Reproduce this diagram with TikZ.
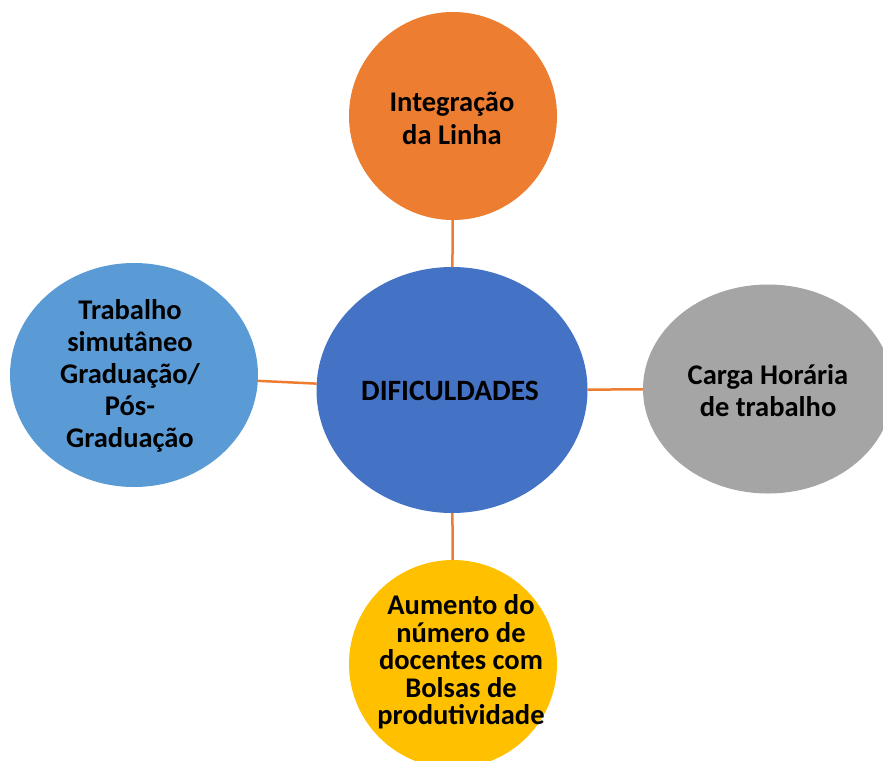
\documentclass[tikz,border=0pt]{standalone}
\usepackage{fontspec}
\setmainfont{Carlito}
\usetikzlibrary{shapes.geometric}
\definecolor{centrocol}{HTML}{4472C4}
\definecolor{linhacol}{HTML}{ED7D31}
\definecolor{trabcol}{HTML}{5B9BD5}
\definecolor{cargacol}{HTML}{A5A5A5}
\definecolor{bolsacol}{HTML}{FFC000}
\definecolor{linkcol}{HTML}{ED7D31}

\begin{document}
\begin{tikzpicture}[
   x=1pt, y=-1pt,
   bubble/.style={ellipse, inner sep=0pt, outer sep=0pt},
   txt/.style={align=center, text=black, inner sep=0pt,
               font=\bfseries\fontsize{28.5}{32}\selectfont},
   link/.style={draw=linkcol, line width=2.5pt},
]
\path[use as bounding box, clip] (0,0) rectangle (883,760);
% centre
\node[bubble, fill=centrocol, minimum width=271pt, minimum height=246pt] (dif) at (452,390) {};
% around
\node[bubble, fill=linhacol, minimum width=208pt, minimum height=208pt] (linha) at (453,116) {};
\node[bubble, fill=trabcol, minimum width=248pt, minimum height=224pt] (trab) at (134,375) {};
\node[bubble, fill=cargacol, minimum width=250pt, minimum height=209pt] (carga) at (768,389) {};
\node[bubble, fill=bolsacol, minimum width=208pt, minimum height=208pt] (bolsas) at (453,664) {};
% texts
\node[txt, font=\bfseries\fontsize{29.5}{32}\selectfont] (dif-txt) at (450,391) {DIFICULDADES};
\node[txt, font=\bfseries\fontsize{28.5}{33}\selectfont] (linha-txt) at (452,118) {Integração\\da Linha};
\node[txt] (trab-txt) at (130,376) {Trabalho\\simutâneo\\Graduação/\\Pós-\\Graduação};
\node[txt] (carga-txt) at (768,391) {Carga Horária\\de trabalho};
\node[txt, font=\bfseries\fontsize{28.5}{27.5}\selectfont] (bolsas-txt) at (461,662)
  {Aumento do\\número de\\docentes com\\Bolsas de\\produtividade};
% edges
\draw[link] (linha) -- (dif);
\draw[link] (trab) -- (dif);
\draw[link] (dif) -- (carga);
\draw[link] (dif) -- (bolsas);
\end{tikzpicture}
\end{document}
